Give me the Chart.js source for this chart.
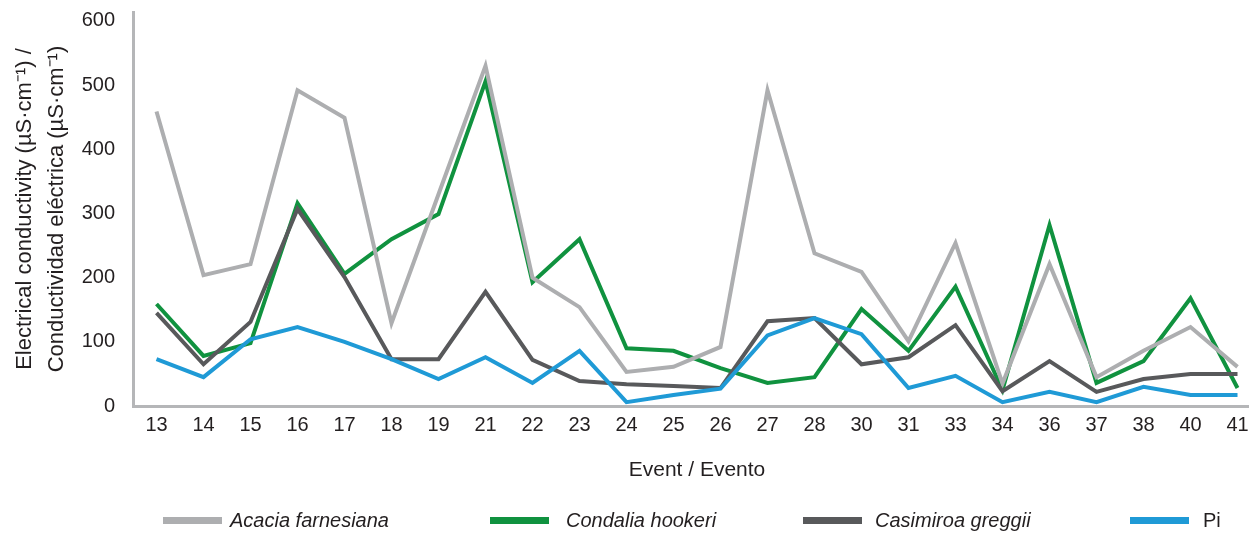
<!DOCTYPE html>
<html>
<head>
<meta charset="utf-8">
<script src="https://cdn.jsdelivr.net/npm/chart.js@4.4.1/dist/chart.umd.min.js"></script>
<style>
  html, body { margin: 0; padding: 0; background: #fff; overflow: hidden; }
  #wrap { position: relative; width: 1261px; height: 533px; }
  #legend { position: absolute; left: 0; top: 0; width: 1249px; height: 533px; pointer-events: none;
            font-family: "Liberation Sans", Arial, sans-serif; font-size: 20px; color: #231f20; }
  .lbox { position: absolute; top: 517px; width: 59px; height: 7px; }
  .ltext { position: absolute; top: 507px; line-height: 26px; white-space: nowrap; }
</style>
</head>
<body>
<div id="wrap">
  <canvas id="c"></canvas>
  <div id="legend"></div>
</div>
<script>
const categories = ['13','14','15','16','17','18','19','21','22','23','24','25','26','27','28','30','31','33','34','36','37','38','40','41'];
const acacia    = [459,204,221,492,449,129,330,530,200,154,53,61,92,492,238,209,101,254,35,221,45,86,123,61];
const condalia  = [159,78,98,316,206,260,299,506,193,260,90,86,59,36,45,151,86,186,25,282,36,70,168,28];
const casimiroa = [145,65,131,307,201,73,73,178,72,39,34,31,28,132,137,65,76,126,23,70,22,42,50,50];
const pi        = [73,45,104,123,100,73,42,76,36,86,6,17,27,110,137,112,28,47,6,22,6,30,17,17];
const yTicks    = [0,100,200,300,400,500,600];
const seriesNames = ['Acacia farnesiana','Condalia hookeri','Casimiroa greggii','Pi'];
const seriesItalic = [true,true,true,false];
const colors = ['#adaeb0','#10923f','#58595b','#1f9ad6'];

const FONT = '"Liberation Sans", Arial, sans-serif';
const axisColor = '#b5b6b8';
const textColor = '#231f20';

const ds = [acacia, condalia, casimiroa, pi].map((d, i) => ({
  label: seriesNames[i],
  data: d,
  borderColor: colors[i],
  backgroundColor: colors[i],
  borderWidth: 4,
  pointRadius: 0,
  pointHoverRadius: 0,
  tension: 0,
  fill: false,
  order: [2, 3, 1, 0][i]
}));

new Chart(document.getElementById('c'), {
  type: 'line',
  data: { labels: categories, datasets: ds },
  options: {
    responsive: true,
    maintainAspectRatio: false,
    animation: false,
    layout: { padding: { top: 12, bottom: 44, left: 0, right: 0 } },
    plugins: { legend: { display: false }, tooltip: { enabled: false } },
    scales: {
      x: {
        offset: true,
        grid: { display: false, drawTicks: false },
        border: { display: true, color: axisColor, width: 3 },
        ticks: { autoSkip: false, maxRotation: 0, padding: 7, color: textColor,
                 font: { family: FONT, size: 20 } },
        title: { display: true, text: 'Event / Evento', color: textColor,
                 font: { family: FONT, size: 21 }, padding: { top: 0, bottom: 6 } },
        afterFit: s => { s.height = 83; s.paddingLeft = 0; s.paddingRight = 0; }
      },
      y: {
        min: 0, max: 614,
        grid: { display: false, drawTicks: false },
        border: { display: true, color: axisColor, width: 3 },
        afterBuildTicks: s => { s.ticks = yTicks.map(v => ({ value: v })); },
        ticks: { padding: 18, color: textColor, font: { family: FONT, size: 20, lineHeight: 1 } },
        title: { display: true,
                 text: ['Electrical conductivity (µS·cm⁻¹) /', 'Conductividad eléctrica (µS·cm⁻¹)'],
                 color: textColor, font: { family: FONT, size: 22, lineHeight: 1.45 }, padding: { top: 9, bottom: 0 } },
        afterFit: s => { s.width = 133; s.paddingTop = 0; s.paddingBottom = 0; }
      }
    }
  }
});

// legend (real text)
const legendPos = [[163, 230], [490, 566], [803, 875], [1130, 1203]];
const lg = document.getElementById('legend');
seriesNames.forEach((n, i) => {
  const b = document.createElement('div');
  b.className = 'lbox';
  b.style.left = legendPos[i][0] + 'px';
  b.style.background = colors[i];
  lg.appendChild(b);
  const t = document.createElement('div');
  t.className = 'ltext';
  t.style.left = legendPos[i][1] + 'px';
  t.style.fontStyle = seriesItalic[i] ? 'italic' : 'normal';
  t.textContent = n;
  lg.appendChild(t);
});
</script>
</body>
</html>
